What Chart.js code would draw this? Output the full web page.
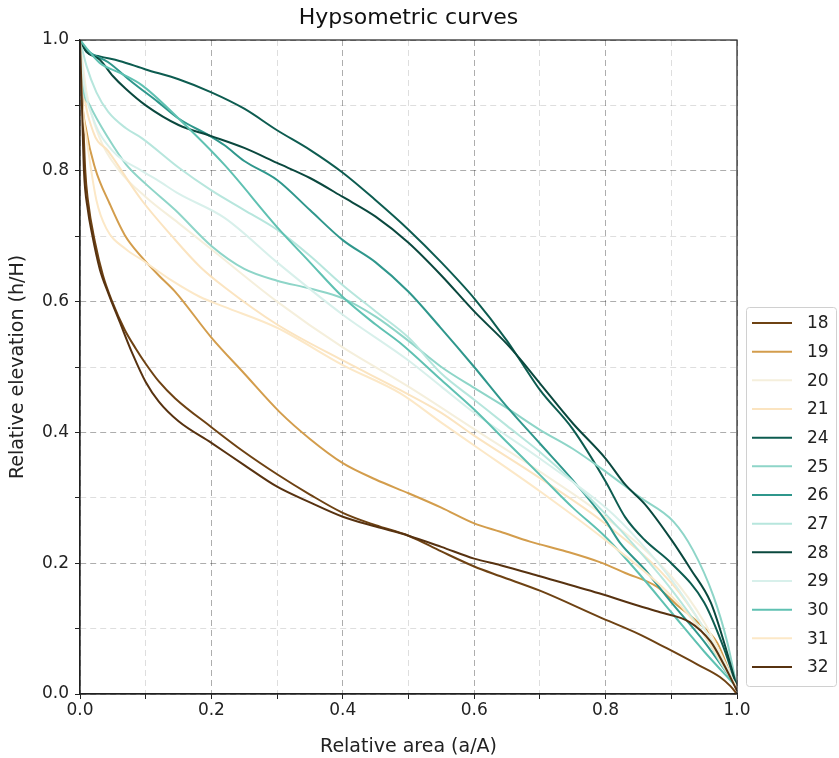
<!DOCTYPE html>
<html>
<head>
<meta charset="utf-8">
<script src="https://cdn.jsdelivr.net/npm/chart.js@4.4.0/dist/chart.umd.min.js"></script>
<style>
  body { margin: 0; background: #fff; }
  #wrap { width: 839px; height: 758px; }
</style>
</head>
<body>
<div id="wrap"><canvas id="hypso" width="839" height="758"></canvas></div>
<script>
// basin ids and colours (BrBG style)
let basins = ["18", "19", "20", "21", "24", "25", "26", "27", "28", "29", "30", "31", "32"];
let basinColors = ["#6e4213", "#d39d4c", "#f5efdc", "#fbe4c0", "#0d5c50", "#8ed5c8", "#2f978c",
                   "#b7e6dd", "#0a483e", "#d8f0eb", "#5fc1b2", "#fce8c7", "#573210"];

// [relative area, relative elevation]
let s18 = [[0,1],[0.004,0.9],[0.008,0.8],[0.012,0.755],[0.023,0.69],[0.035,0.64],[0.049,0.6],[0.068,0.557],[0.085,0.528],[0.1,0.505],[0.12,0.478],[0.145,0.452],[0.2,0.408],[0.25,0.37],[0.3,0.336],[0.35,0.305],[0.4,0.277],[0.45,0.258],[0.5,0.242],[0.55,0.218],[0.6,0.195],[0.64,0.18],[0.7,0.158],[0.79,0.118],[0.85,0.092],[0.893,0.07],[0.94,0.045],[0.974,0.026],[0.99,0.012],[1,0]];
let s19 = [[0,1],[0.002,0.93],[0.01,0.86],[0.023,0.804],[0.045,0.75],[0.068,0.702],[0.094,0.668],[0.12,0.64],[0.145,0.615],[0.2,0.545],[0.25,0.49],[0.304,0.431],[0.35,0.39],[0.4,0.353],[0.45,0.328],[0.5,0.307],[0.55,0.285],[0.6,0.261],[0.64,0.248],[0.685,0.233],[0.74,0.218],[0.79,0.202],[0.83,0.185],[0.878,0.164],[0.91,0.135],[0.94,0.11],[0.97,0.078],[0.99,0.03],[1,0.005]];
let s20 = [[0,1],[0.01,0.92],[0.03,0.85],[0.06,0.8],[0.1,0.76],[0.15,0.72],[0.2,0.68],[0.3,0.6],[0.4,0.53],[0.5,0.47],[0.6,0.405],[0.7,0.34],[0.8,0.27],[0.9,0.18],[0.95,0.11],[1,0.01]];
let s21 = [[0,1],[0.005,0.93],[0.02,0.86],[0.043,0.83],[0.094,0.755],[0.14,0.7],[0.183,0.653],[0.22,0.622],[0.3,0.565],[0.4,0.51],[0.487,0.465],[0.55,0.43],[0.6,0.395],[0.7,0.33],[0.8,0.26],[0.9,0.17],[0.95,0.1],[1,0.01]];
let s24 = [[0,1],[0.01,0.982],[0.03,0.975],[0.06,0.968],[0.1,0.955],[0.15,0.94],[0.2,0.92],[0.25,0.895],[0.3,0.862],[0.35,0.832],[0.4,0.797],[0.45,0.755],[0.5,0.71],[0.55,0.66],[0.6,0.605],[0.65,0.54],[0.67,0.51],[0.7,0.465],[0.75,0.405],[0.8,0.325],[0.83,0.27],[0.86,0.235],[0.9,0.2],[0.95,0.14],[0.98,0.07],[1,0.01]];
let s25 = [[0,1],[0.003,0.94],[0.015,0.9],[0.043,0.85],[0.07,0.81],[0.1,0.78],[0.145,0.74],[0.2,0.685],[0.25,0.65],[0.3,0.632],[0.35,0.62],[0.4,0.605],[0.45,0.577],[0.5,0.54],[0.55,0.5],[0.6,0.468],[0.65,0.437],[0.7,0.404],[0.75,0.375],[0.8,0.34],[0.852,0.301],[0.903,0.264],[0.933,0.22],[0.964,0.15],[0.985,0.08],[1,0.01]];
let s26 = [[0,1],[0.01,0.985],[0.043,0.966],[0.08,0.935],[0.119,0.905],[0.15,0.88],[0.2,0.852],[0.22,0.839],[0.25,0.815],[0.3,0.786],[0.35,0.74],[0.4,0.694],[0.45,0.66],[0.5,0.615],[0.548,0.561],[0.6,0.5],[0.65,0.439],[0.7,0.383],[0.75,0.327],[0.8,0.265],[0.822,0.231],[0.86,0.19],[0.9,0.14],[0.95,0.08],[1,0.01]];
let s27 = [[0,1],[0.01,0.96],[0.025,0.92],[0.043,0.89],[0.07,0.865],[0.094,0.85],[0.15,0.805],[0.2,0.77],[0.25,0.74],[0.3,0.71],[0.35,0.67],[0.4,0.625],[0.45,0.585],[0.5,0.545],[0.55,0.49],[0.6,0.45],[0.65,0.41],[0.7,0.37],[0.75,0.325],[0.8,0.275],[0.85,0.22],[0.9,0.16],[0.95,0.09],[0.98,0.04],[1,0.01]];
let s28 = [[0,1],[0.01,0.982],[0.03,0.97],[0.05,0.945],[0.07,0.925],[0.1,0.9],[0.15,0.87],[0.2,0.853],[0.25,0.835],[0.3,0.812],[0.35,0.789],[0.4,0.76],[0.45,0.73],[0.5,0.69],[0.55,0.64],[0.6,0.585],[0.65,0.535],[0.67,0.512],[0.7,0.475],[0.75,0.414],[0.8,0.36],[0.83,0.32],[0.86,0.29],[0.9,0.236],[0.93,0.19],[0.96,0.14],[0.98,0.08],[1,0.01]];
let s29 = [[0,1],[0.005,0.94],[0.02,0.88],[0.05,0.83],[0.094,0.8],[0.119,0.785],[0.15,0.765],[0.22,0.728],[0.3,0.66],[0.4,0.58],[0.5,0.51],[0.55,0.47],[0.6,0.43],[0.7,0.36],[0.8,0.285],[0.85,0.235],[0.9,0.175],[0.95,0.1],[1,0.01]];
let s30 = [[0,1],[0.008,0.99],[0.03,0.965],[0.06,0.95],[0.094,0.931],[0.15,0.88],[0.22,0.809],[0.3,0.714],[0.35,0.66],[0.4,0.607],[0.45,0.565],[0.487,0.537],[0.55,0.48],[0.6,0.435],[0.65,0.385],[0.7,0.335],[0.75,0.285],[0.8,0.24],[0.85,0.185],[0.9,0.125],[0.95,0.065],[1,0.01]];
let s31 = [[0,1],[0.004,0.9],[0.01,0.85],[0.025,0.755],[0.04,0.712],[0.07,0.68],[0.094,0.664],[0.14,0.632],[0.183,0.607],[0.22,0.592],[0.3,0.56],[0.4,0.503],[0.487,0.46],[0.55,0.415],[0.6,0.38],[0.7,0.31],[0.8,0.235],[0.9,0.15],[0.95,0.09],[1,0.01]];
let s32 = [[0,1],[0.003,0.9],[0.006,0.8],[0.012,0.74],[0.018,0.705],[0.03,0.65],[0.043,0.613],[0.06,0.57],[0.08,0.52],[0.1,0.477],[0.12,0.447],[0.15,0.417],[0.2,0.384],[0.25,0.35],[0.3,0.317],[0.35,0.293],[0.4,0.271],[0.45,0.256],[0.5,0.242],[0.55,0.225],[0.6,0.207],[0.64,0.197],[0.7,0.18],[0.79,0.154],[0.85,0.135],[0.883,0.125],[0.928,0.11],[0.96,0.08],[0.98,0.045],[1,0.005]];

let curves = [s18, s19, s20, s21, s24, s25, s26, s27, s28, s29, s30, s31, s32];

let datasets = curves.map((pts, i) => ({
    label: basins[i],
    data: pts.map(p => ({ x: p[0], y: p[1] })),
    borderColor: basinColors[i],
    borderWidth: 2,
    pointRadius: 0,
    cubicInterpolationMode: "monotone",
    order: curves.length - i
}));

// frame on top/right plus matplotlib style legend box
let framePlugin = {
    id: "frame",
    afterDraw(chart) {
        let ctx = chart.ctx;
        let a = chart.chartArea;
        ctx.save();
        ctx.strokeStyle = "#222";
        ctx.lineWidth = 1.2;
        ctx.strokeRect(a.left, a.top, a.right - a.left, a.bottom - a.top);

        // legend
        let bx = 746, by = 307, bw = 90, bh = 379;
        ctx.fillStyle = "rgba(255,255,255,0.85)";
        ctx.strokeStyle = "#d0d0d0";
        ctx.lineWidth = 1;
        ctx.beginPath();
        ctx.roundRect(bx + 0.5, by + 0.5, bw, bh, 3);
        ctx.fill();
        ctx.stroke();
        ctx.font = "17px 'DejaVu Sans'";
        ctx.textBaseline = "middle";
        ctx.textAlign = "left";
        chart.data.datasets.forEach((ds, i) => {
            let y = 323 + i * 28.67;
            ctx.strokeStyle = ds.borderColor;
            ctx.lineWidth = 2;
            ctx.beginPath();
            ctx.moveTo(752, y);
            ctx.lineTo(792, y);
            ctx.stroke();
            ctx.fillStyle = "#222";
            ctx.fillText(ds.label, 807, y + 1);
        });
        ctx.restore();
    }
};

let gridColor = c => (c.index % 2 === 0 ? "rgba(0,0,0,0.32)" : "rgba(0,0,0,0.13)");
let tickLabel = (v, i) => (i % 2 === 0 ? Number(v).toFixed(1) : "");

new Chart("hypso", {
    type: "line",
    data: { datasets: datasets },
    plugins: [framePlugin],
    options: {
        responsive: false,
        animation: false,
        layout: { padding: { left: 0, right: 102, top: 0, bottom: 0 } },
        plugins: {
            legend: { display: false },
            tooltip: { enabled: false },
            title: {
                display: true,
                text: "Hypsometric curves",
                fullSize: false,
                color: "#111",
                font: { family: "DejaVu Sans", size: 22, weight: "normal" },
                padding: { top: 4.8, bottom: 8.8 }
            }
        },
        scales: {
            x: {
                type: "linear",
                min: 0,
                max: 1,
                ticks: { stepSize: 0.1, callback: tickLabel, color: "#222", padding: 1, maxRotation: 0,
                         font: { family: "DejaVu Sans", size: 17 } },
                grid: { color: gridColor, tickColor: "#222", tickLength: 5, lineWidth: 1 },
                border: { color: "#222", width: 1.2, dash: [6, 4] },
                title: { display: true, text: "Relative area (a/A)", color: "#222",
                         font: { family: "DejaVu Sans", size: 19 }, padding: { top: 1.6, bottom: 0 } },
                afterFit(scale) { scale.height = 64; }
            },
            y: {
                type: "linear",
                min: 0,
                max: 1,
                ticks: { stepSize: 0.1, callback: tickLabel, color: "#222", padding: 6,
                         font: { family: "DejaVu Sans", size: 17 } },
                grid: { color: gridColor, tickColor: "#222", tickLength: 5, lineWidth: 1 },
                border: { color: "#222", width: 1.2, dash: [6, 4] },
                title: { display: true, text: "Relative elevation (h/H)", color: "#222",
                         font: { family: "DejaVu Sans", size: 19 }, padding: { top: 6.6, bottom: 0 } },
                afterFit(scale) { scale.width = 80; }
            }
        }
    }
});
</script>
</body>
</html>
